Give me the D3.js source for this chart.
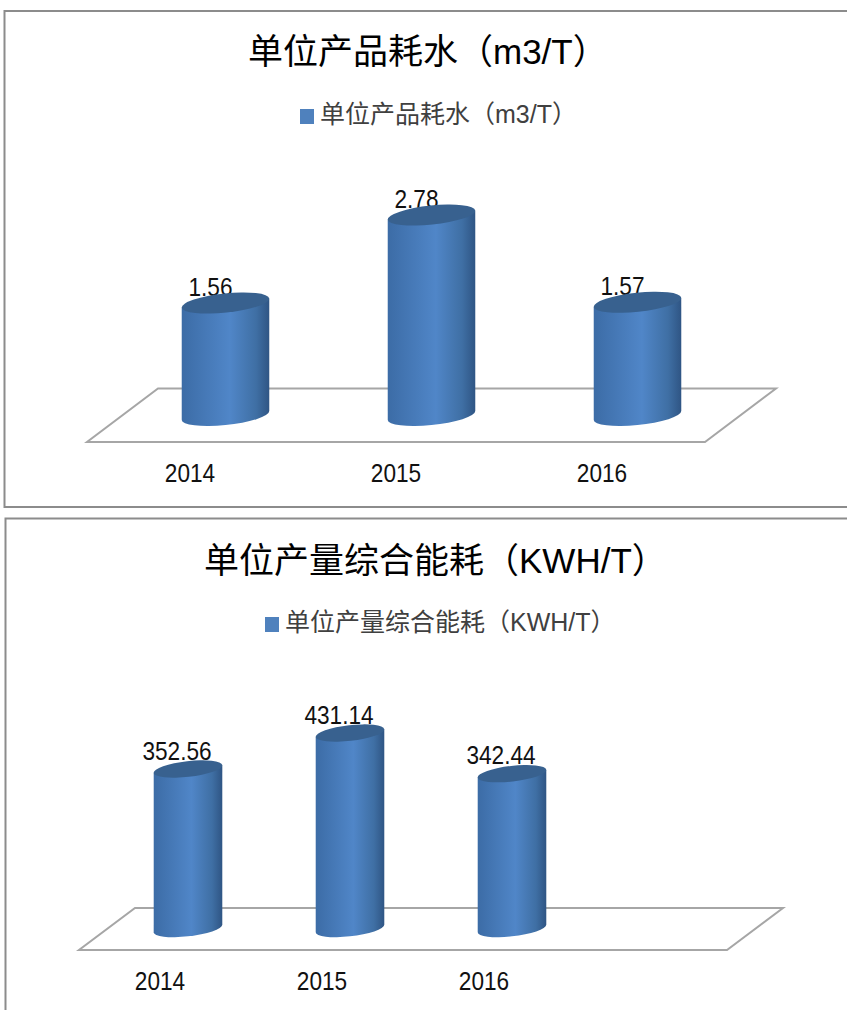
<!DOCTYPE html>
<html>
<head>
    <meta charset="utf-8">
    <title>单位产品耗水</title>
    <script src="https://d3js.org/d3.v7.min.js"></script>
    <style>
        body { margin: 0; background: white; }
        svg { display: block; }
        text { font-family: "Liberation Sans", "Noto Sans CJK SC", sans-serif; }
        .tick line, .domain { display: none; }
    </style>
</head>
<body>
<div id="chart"></div>
<script>
    // values
    const waterYears = ["2014", "2015", "2016"];
    const waterValues = [1.56, 2.78, 1.57];
    const waterName = "单位产品耗水（m3/T）";

    // second chart leaves an empty slot on the right
    const energyYears = ["2014", "2015", "2016", ""];
    const energyValues = [352.56, 431.14, 342.44];
    const energyName = "单位产量综合能耗（KWH/T）";

    const svg = d3.select("#chart").append("svg")
        .attr("width", 847)
        .attr("height", 1010);

    // horizontal shading of the cylinders
    const defs = svg.append("defs");
    const grad = defs.append("linearGradient").attr("id", "side");
    [[0, "#3c6ca6"], [0.55, "#5086c8"], [0.85, "#3f6fa4"], [1, "#2f5584"]].forEach(s => {
        grad.append("stop").attr("offset", s[0]).attr("stop-color", s[1]);
    });

    // digits are narrower in the original, squeeze them a bit
    function squeeze(sel, ratio) {
        sel.each(function () {
            const len = this.getComputedTextLength();
            if (len > 0) {
                d3.select(this)
                    .attr("textLength", len * ratio)
                    .attr("lengthAdjust", "spacingAndGlyphs");
            }
        });
    }

    function drawChart(o) {
        const g = svg.append("g");

        // frame
        g.append("path")
            .attr("d", o.frame)
            .attr("fill", "none")
            .attr("stroke", "#8c8c8c")
            .attr("stroke-width", 2);

        // title + legend
        g.append("text")
            .attr("x", o.titleX)
            .attr("y", o.titleY)
            .attr("font-size", 35)
            .attr("fill", "#000")
            .text(o.name);

        g.append("rect")
            .attr("x", o.legendX)
            .attr("y", o.legendY - 14)
            .attr("width", 14)
            .attr("height", 15)
            .attr("fill", "#4f81bd");

        g.append("text")
            .attr("x", o.legendX + 20)
            .attr("y", o.legendY)
            .attr("font-size", 25)
            .attr("fill", "#404040")
            .text(o.name);

        const x = d3.scaleBand().domain(o.years).range([o.floorLeft, o.floorRight]);
        const y = d3.scaleLinear().domain(o.domain).range(o.yRange);

        // floor parallelogram
        g.append("path")
            .attr("d", `M${o.floorLeft},${o.floorFront}L${o.floorRight},${o.floorFront}` +
                `L${o.floorRight + o.depth},${o.floorBack}L${o.floorLeft + o.depth},${o.floorBack}Z`)
            .attr("fill", "white")
            .attr("stroke", "#a6a6a6")
            .attr("stroke-width", 2);

        // x axis
        const axis = g.append("g")
            .attr("transform", `translate(0,${o.floorFront})`)
            .call(d3.axisBottom(x).tickSize(0).tickPadding(o.tickPad));
        axis.selectAll("text")
            .attr("font-size", 26)
            .style("font-family", "\"Liberation Sans\", sans-serif")
            .attr("fill", "#111")
            .call(squeeze, 0.87);

        const vals = o.values.map((v, i) => ({ year: o.years[i], v: v }));
        const cx = d => x(d.year) + x.bandwidth() / 2 + o.depth / 2;

        // labels go under the cylinders, the tops cut into them
        g.selectAll(".val")
            .data(vals)
            .enter()
            .append("text")
            .attr("class", "val")
            .attr("x", d => cx(d) - o.labelShift)
            .attr("y", d => y(d.v) - o.labelUp)
            .attr("text-anchor", "middle")
            .attr("font-size", 26)
            .attr("fill", "#111")
            .text(d => d.v)
            .call(squeeze, 0.87);

        // ellipse is tilted, work out where its sides touch
        const t = o.tilt * Math.PI / 180;
        const hw = Math.sqrt(o.rx * o.rx * Math.cos(t) ** 2 + o.ry * o.ry * Math.sin(t) ** 2);
        const dy = (o.rx * o.rx - o.ry * o.ry) * Math.sin(t) * Math.cos(t) / hw;

        g.selectAll(".body")
            .data(vals)
            .enter()
            .append("path")
            .attr("class", "body")
            .attr("fill", "url(#side)")
            .attr("d", d => {
                const c = cx(d);
                const t0 = y(d.v);
                return `M${c - hw},${t0 + dy}L${c - hw},${o.bottom + dy}` +
                    `A${o.rx},${o.ry} ${-o.tilt} 0 0 ${c + hw},${o.bottom - dy}` +
                    `L${c + hw},${t0 - dy}Z`;
            });

        g.selectAll(".cap")
            .data(vals)
            .enter()
            .append("ellipse")
            .attr("class", "cap")
            .attr("rx", o.rx)
            .attr("ry", o.ry)
            .attr("fill", "#38618f")
            .attr("transform", d => `translate(${cx(d)},${y(d.v)}) rotate(${-o.tilt})`);
    }

    drawChart({
        name: waterName, years: waterYears, values: waterValues,
        frame: "M848,11H4.5V507H848",
        titleX: 248, titleY: 64,
        legendX: 300, legendY: 123,
        floorLeft: 87, floorRight: 705, floorFront: 442, floorBack: 388.5, depth: 71,
        domain: [0, 3], yRange: [415.5, 199.2], bottom: 415.5,
        rx: 44, ry: 9.5, tilt: 6,
        tickPad: 22, labelShift: 15, labelUp: 7.5
    });

    drawChart({
        name: energyName, years: energyYears, values: energyValues,
        frame: "M848,518.5H5.5V1011",
        titleX: 204, titleY: 573,
        legendX: 265, legendY: 631,
        floorLeft: 79, floorRight: 727, floorFront: 950, floorBack: 908, depth: 56,
        domain: [0, 500], yRange: [930.5, 701.5], bottom: 928.5,
        rx: 34.5, ry: 7.8, tilt: 6.5,
        tickPad: 22, labelShift: 11, labelUp: 9.5
    });
</script>
</body>
</html>
